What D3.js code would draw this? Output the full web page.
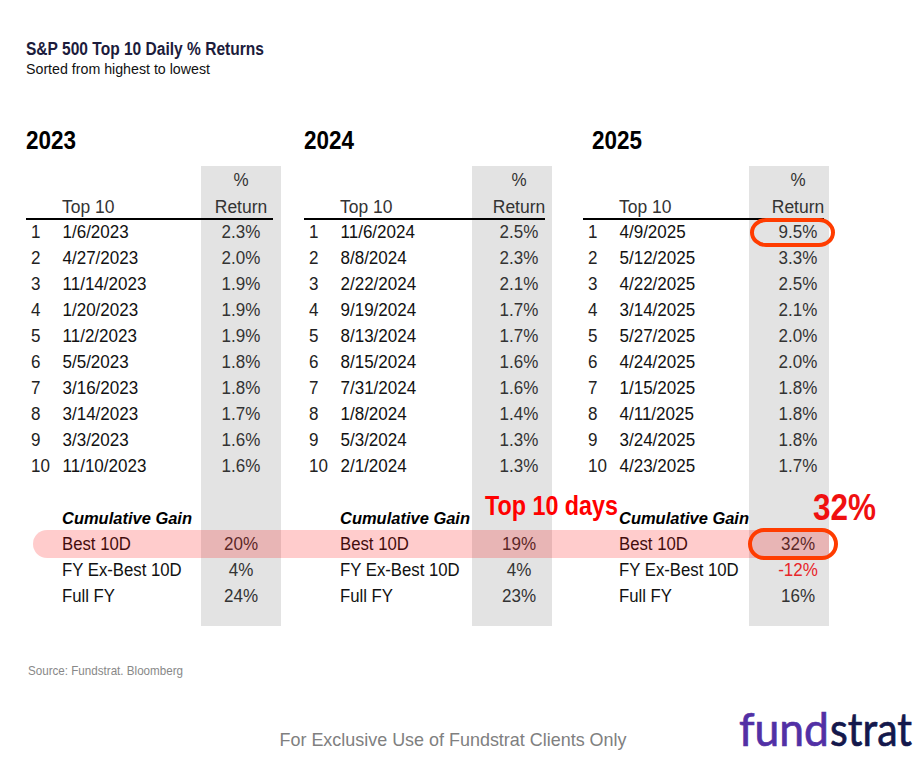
<!DOCTYPE html>
<html>
<head>
<meta charset="utf-8">
<script src="https://cdnjs.cloudflare.com/ajax/libs/d3/7.8.5/d3.min.js"></script>
<style>
html, body { margin: 0; padding: 0; background: #fff; }
svg { display: block; }
text { font-family: "Liberation Sans", Arial, sans-serif; }
</style>
</head>
<body>
<div id="chart"></div>
<script>
var years = ["2023", "2024", "2025"];
var ranks = [1, 2, 3, 4, 5, 6, 7, 8, 9, 10];

var dates2023 = ["1/6/2023", "4/27/2023", "11/14/2023", "1/20/2023", "11/2/2023", "5/5/2023", "3/16/2023", "3/14/2023", "3/3/2023", "11/10/2023"];
var dates2024 = ["11/6/2024", "8/8/2024", "2/22/2024", "9/19/2024", "8/13/2024", "8/15/2024", "7/31/2024", "1/8/2024", "5/3/2024", "2/1/2024"];
var dates2025 = ["4/9/2025", "5/12/2025", "4/22/2025", "3/14/2025", "5/27/2025", "4/24/2025", "1/15/2025", "4/11/2025", "3/24/2025", "4/23/2025"];

var returns2023 = [2.3, 2.0, 1.9, 1.9, 1.9, 1.8, 1.8, 1.7, 1.6, 1.6];
var returns2024 = [2.5, 2.3, 2.1, 1.7, 1.7, 1.6, 1.6, 1.4, 1.3, 1.3];
var returns2025 = [9.5, 3.3, 2.5, 2.1, 2.0, 2.0, 1.8, 1.8, 1.8, 1.7];

var summaryLabels = ["Best 10D", "FY Ex-Best 10D", "Full FY"];
var summary2023 = [20, 4, 24];
var summary2024 = [19, 4, 23];
var summary2025 = [32, -12, 16];

// column positions for each year's table
var panels = [
  {year: years[0], dates: dates2023, rets: returns2023, sums: summary2023, left: 26, yearX: 26, band: 201, mid: 241, end: 273},
  {year: years[1], dates: dates2024, rets: returns2024, sums: summary2024, left: 304, yearX: 304, band: 472, mid: 519, end: 545},
  {year: years[2], dates: dates2025, rets: returns2025, sums: summary2025, left: 583, yearX: 592, band: 749, mid: 798, end: 824}
];

var w = 922, h = 759;
var narrow = '"Liberation Sans Narrow", "Liberation Sans", Arial, sans-serif';

var svg = d3.select("#chart").append("svg")
  .attr("width", w)
  .attr("height", h);

// row position: 0-9 top ten, then summary rows
var rowY = d3.scaleLinear().domain([0, 9]).range([238, 472]);
var sumY = d3.scaleLinear().domain([0, 2]).range([550, 602]);
var fmtPct = function(d) { return d3.format(".1f")(d) + "%"; };

function label(g, x, y, str, size, color, anchor, weight, style, fit) {
  var t = g.append("text")
    .attr("x", x).attr("y", y)
    .attr("font-size", size)
    .attr("fill", color)
    .attr("text-anchor", anchor || "start")
    .attr("font-weight", weight || "normal")
    .attr("font-style", style || "normal")
    .text(str);
  if (fit) t.attr("textLength", fit).attr("lengthAdjust", "spacingAndGlyphs");
  return t;
}

// table text in the reference is tall and a bit condensed
function cell(g, x, y, str, color, anchor, squeeze) {
  var t = label(g, x, y, str, 18, color, anchor);
  t.attr("textLength", t.node().getComputedTextLength() * (squeeze || 0.945))
   .attr("lengthAdjust", "spacingAndGlyphs");
  return t;
}

label(svg, 26, 55, "S&P 500 Top 10 Daily % Returns", 17.5, "#1c1c3c", "start", "bold", null, 238);
label(svg, 26, 74, "Sorted from highest to lowest", 15.5, "#111", "start", null, null, 184);

// grey return columns go under everything
svg.selectAll("rect.band")
  .data(panels)
  .enter()
  .append("rect")
  .attr("class", "band")
  .attr("x", function(d) { return d.band; })
  .attr("y", 166)
  .attr("width", 80)
  .attr("height", 460)
  .attr("fill", "#e3e3e3");

panels.forEach(function(p) {
  var g = svg.append("g");
  label(g, p.yearX, 149, p.year, 25, "#000", "start", "bold", null, 50);

  cell(g, p.mid, 186, "%", "#333", "middle");
  cell(g, p.mid, 213, "Return", "#333", "middle", 0.97);
  cell(g, p.left + 36, 213, "Top 10", "#333", "start", 0.97);

  g.append("line")
    .attr("x1", p.left).attr("x2", p.end)
    .attr("y1", 219).attr("y2", 219)
    .attr("stroke", "#000").attr("stroke-width", 2);

  ranks.forEach(function(r, i) {
    cell(g, p.left + 5, rowY(i), r, "#222");
    cell(g, p.left + 36.5, rowY(i), p.dates[i], "#111");
    cell(g, p.mid, rowY(i), fmtPct(p.rets[i]), "#333", "middle");
  });

  label(g, p.left + 36, 524, "Cumulative Gain", 17, "#000", "start", "bold", "italic", 130);

  summaryLabels.forEach(function(s, i) {
    cell(g, p.left + 36, sumY(i), s, "#111", "start", 0.93);
    var v = p.sums[i];
    cell(g, p.mid, sumY(i), v + "%", v < 0 ? "#e8262a" : "#333", "middle");
  });
});

// pink highlight across the Best 10D row, sits on top of the text
svg.append("path")
  .attr("d", "M829,530 H47 A14,14 0 0 0 47,558 H829 Z")
  .attr("fill", "#ff0000")
  .attr("fill-opacity", 0.2);

// orange ovals
var ovals = [
  {x: 752, y: 220, w: 81, h: 25},
  {x: 750, y: 530, w: 86, h: 28}
];
svg.selectAll("rect.oval")
  .data(ovals)
  .enter()
  .append("rect")
  .attr("class", "oval")
  .attr("x", function(d) { return d.x; })
  .attr("y", function(d) { return d.y; })
  .attr("width", function(d) { return d.w; })
  .attr("height", function(d) { return d.h; })
  .attr("rx", 14)
  .attr("fill", "none")
  .attr("stroke", "#ff3c00")
  .attr("stroke-width", 4);

label(svg, 485, 515, "Top 10 days", 27, "#ff0000", "start", "bold", null, 133).style("font-family", narrow);
label(svg, 813, 520, "32%", 37, "#f01010", "start", "bold", null, 63).style("font-family", narrow);

label(svg, 28, 675, "Source: Fundstrat. Bloomberg", 13, "#888", "start", null, null, 155).style("font-family", narrow);
label(svg, 453, 746, "For Exclusive Use of Fundstrat Clients Only", 18.5, "#808080", "middle", null, null, 347);

// logo wordmark
label(svg, 739, 746, "fund", 46, "#5230a5", "start", null, null, 90)
  .style("font-family", "Lato, sans-serif")
  .attr("stroke", "#5230a5").attr("stroke-width", 0.7);
label(svg, 830, 746, "strat", 46, "#14184c", "start", null, null, 82)
  .style("font-family", "Lato, sans-serif")
  .attr("stroke", "#14184c").attr("stroke-width", 0.7);
</script>
</body>
</html>
